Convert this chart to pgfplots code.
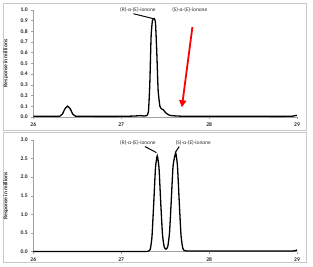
\documentclass[border=0pt]{standalone}
\usepackage{fontspec}
\setmainfont{Carlito}
\usepackage{pgfplots}
\pgfplotsset{compat=1.18}
\usetikzlibrary{arrows.meta}
\definecolor{axgray}{RGB}{160,160,160}
\definecolor{frgray}{RGB}{200,200,200}
\definecolor{txt}{RGB}{40,40,40}
\begin{document}
\begin{tikzpicture}[x=1pt,y=1pt]
\fill[white] (0,0) rectangle (313,267);
\draw[frgray,line width=0.8pt] (3,136) rectangle (306,264);
\draw[frgray,line width=0.8pt] (3,4) rectangle (306,134);
\pgfplotsset{every axis/.append style={
  scale only axis, width=264pt, xmin=26, xmax=29, ymin=0,
  axis x line*=bottom, axis y line*=left,
  axis line style={axgray, line width=0.5pt},
  xtick={26,27,28,29}, xticklabels={26,27,28,29},
  tick style={axgray, line width=0.5pt}, tick align=outside,
  major tick length=2pt,
  ticklabel style={font=\fontsize{5.6}{6}\selectfont\bfseries, text=txt},
  /pgf/number format/assume math mode=true,
  y tick label style={/pgf/number format/.cd, fixed, fixed zerofill, precision=1},
  xticklabel style={yshift=-0.5pt},
  ylabel={\fontsize{5.6}{6}\selectfont\bfseries Response in millions},
  ylabel style={text=txt, at={(axis description cs:-0.082,0.5)}},
  clip=false}}
% top panel
\begin{axis}[at={(33pt,150pt)}, anchor=south west, height=107pt, ymax=1.0,
  ytick={0,0.1,...,1.0}]
\addplot[black, line width=1.3pt, smooth, tension=0.3] coordinates {
(26.00,0.005)(26.20,0.005)(26.30,0.006)(26.33,0.025)(26.36,0.075)(26.39,0.100)(26.42,0.075)(26.45,0.025)(26.48,0.006)(26.60,0.005)(27.00,0.005)(27.15,0.008)(27.22,0.012)(27.26,0.008)(27.29,0.012)(27.31,0.05)(27.325,0.30)(27.34,0.75)(27.355,0.90)(27.375,0.92)(27.39,0.88)(27.405,0.60)(27.42,0.25)(27.44,0.10)(27.46,0.075)(27.48,0.065)(27.51,0.035)(27.55,0.015)(27.60,0.010)(27.70,0.006)(28.00,0.005)(28.50,0.005)(28.90,0.005)(28.96,0.008)(28.99,0.014)(29.00,0.012)};
\node[font=\fontsize{5.4}{6}\selectfont, text=txt] at (axis cs:27.19,1.0) {(R)-α-(E)-ionone};
\node[font=\fontsize{5.4}{6}\selectfont, text=txt] at (axis cs:27.78,1.0) {(S)-α-(E)-ionone};
\draw[black, line width=1pt] (axis cs:27.14,0.965) -- (axis cs:27.36,0.92);
\draw[red, line width=1.8pt, -{Triangle[length=7pt,width=7pt]}] (axis cs:27.81,0.84) -- (axis cs:27.69,0.09);
\end{axis}
% bottom panel
\begin{axis}[at={(33pt,15pt)}, anchor=south west, height=112pt, ymax=3.0,
  ytick={0,0.5,...,3.0}]
\addplot[black, line width=1.3pt, smooth, tension=0.3] coordinates {
(26.00,0.005)(26.50,0.005)(27.00,0.005)(27.25,0.005)(27.30,0.01)(27.33,0.06)(27.35,0.40)(27.37,1.30)(27.39,2.25)(27.41,2.57)(27.43,2.25)(27.45,1.30)(27.47,0.45)(27.49,0.12)(27.51,0.07)(27.53,0.14)(27.55,0.52)(27.57,1.40)(27.59,2.30)(27.62,2.65)(27.64,2.30)(27.66,1.35)(27.68,0.45)(27.70,0.10)(27.72,0.03)(27.80,0.02)(28.50,0.02)(28.95,0.02)(29.00,0.05)};
\node[font=\fontsize{5.4}{6}\selectfont, text=txt] at (axis cs:27.19,2.93) {(R)-α-(E)-ionone};
\node[font=\fontsize{5.4}{6}\selectfont, text=txt] at (axis cs:27.82,2.93) {(S)-α-(E)-ionone};
\draw[black, line width=1pt] (axis cs:27.27,2.82) -- (axis cs:27.40,2.66);
\draw[black, line width=1pt] (axis cs:27.66,2.82) -- (axis cs:27.62,2.68);
\end{axis}
\end{tikzpicture}
\end{document}
